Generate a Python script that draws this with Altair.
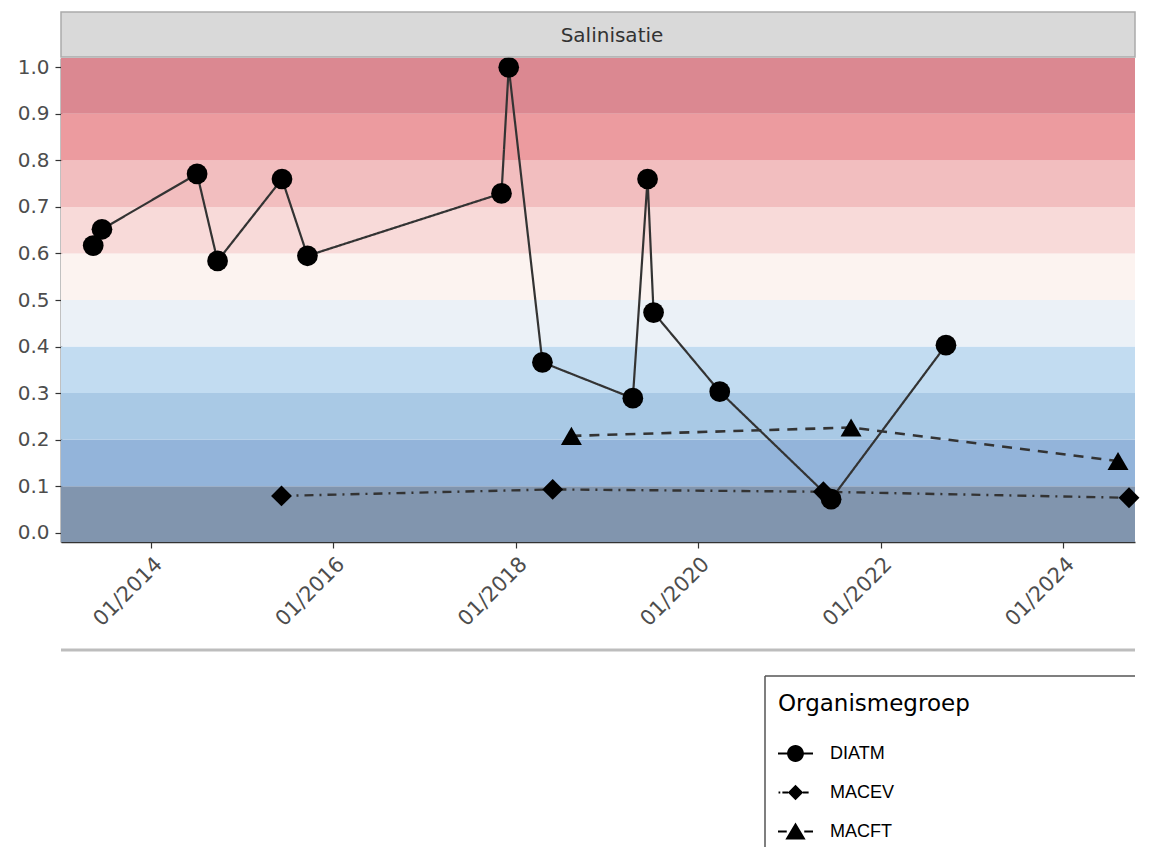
import altair as alt
import pandas as pd

# ---------------- data ----------------
groups = ["DIATM", "MACEV", "MACFT"]

diatm_dates = ["2013-05-15", "2013-06-19", "2014-07-05", "2014-09-25", "2015-06-10",
               "2015-09-20", "2017-11-05", "2017-12-04", "2018-04-18", "2019-04-15",
               "2019-06-13", "2019-07-07", "2020-03-28", "2021-06-17", "2022-09-20"]
diatm_values = [0.617, 0.652, 0.771, 0.584, 0.760, 0.595, 0.729, 1.000, 0.366, 0.289,
                0.760, 0.473, 0.303, 0.072, 0.403]

macev_dates = ["2015-06-08", "2018-05-29", "2021-05-17", "2024-09-22"]
macev_values = [0.079, 0.093, 0.088, 0.075]

macft_dates = ["2018-08-12", "2021-09-05", "2024-08-09"]
macft_values = [0.208, 0.226, 0.154]

band_lower = [0.0, 0.1, 0.2, 0.3, 0.4, 0.5, 0.6, 0.7, 0.8, 0.9]
band_upper = [0.1, 0.2, 0.3, 0.4, 0.5, 0.6, 0.7, 0.8, 0.9, 1.0]
band_colors = ["#8195AE", "#93B4DA", "#A9C9E5", "#C2DCF1", "#EBF1F7",
               "#FCF3F0", "#F8DAD9", "#F2BEBF", "#EC9B9F", "#DB8891"]

y_ticks = [0.0, 0.1, 0.2, 0.3, 0.4, 0.5, 0.6, 0.7, 0.8, 0.9, 1.0]
x_tick_years = [2014, 2016, 2018, 2020, 2022, 2024]
Y_DOMAIN = [-0.02, 1.02]

strip_label = "Salinisatie"
legend_title = "Organismegroep"

# ---------------- tables ----------------
df = pd.concat([
    pd.DataFrame({"date": diatm_dates, "value": diatm_values, "group": "DIATM"}),
    pd.DataFrame({"date": macev_dates, "value": macev_values, "group": "MACEV"}),
    pd.DataFrame({"date": macft_dates, "value": macft_values, "group": "MACFT"}),
], ignore_index=True)

lo = list(band_lower)
hi = list(band_upper)
lo[0] = Y_DOMAIN[0]
hi[-1] = Y_DOMAIN[1]
bands = pd.DataFrame({"lo": lo, "hi": hi, "col": band_colors})

one = pd.DataFrame({"t": [strip_label]})

W = 1074
H = 484

yscale = alt.Scale(domain=Y_DOMAIN, nice=False, zero=False)
yaxis = alt.Axis(values=y_ticks, format=".1f", title=None, labelPadding=6, tickSize=6, grid=False,
                 labelFontSize=20)
xscale = alt.Scale(type="utc", nice=False,
                   domain=[alt.DateTime(year=2013, month=1, date=6, utc=True),
                           alt.DateTime(year=2024, month=10, date=16, utc=True)])
xaxis = alt.Axis(values=[alt.DateTime(year=y, month=1, date=1, utc=True) for y in x_tick_years],
                 format="%m/%Y", labelAngle=-45, labelAlign="right", labelBaseline="top",
                 labelPadding=5, tickSize=6, title=None, grid=False, labelFontSize=21)

X = alt.X("date:T", scale=xscale, axis=xaxis)
Y = alt.Y("value:Q", scale=yscale, axis=yaxis)

band_layer = alt.Chart(bands).mark_rect().encode(
    x=alt.value(0), x2=alt.value(W),
    y=alt.Y("lo:Q", scale=yscale, axis=yaxis), y2="hi:Q",
    color=alt.Color("col:N", scale=None),
)

line_layer = alt.Chart(df).mark_line(color="#333333").encode(
    x=X, y=Y, detail="group:N",
    strokeDash=alt.StrokeDash("group:N", scale=alt.Scale(domain=groups, range=[[1, 0], [9, 6, 2, 6], [10, 8]]), legend=None),
    strokeWidth=alt.StrokeWidth("group:N", scale=alt.Scale(domain=groups, range=[2.2, 2.6, 2.8]), legend=None),
)

point_layer = alt.Chart(df).mark_point(filled=True, color="black", opacity=1).encode(
    x=X, y=Y,
    shape=alt.Shape("group:N", scale=alt.Scale(domain=groups, range=["circle", "diamond", "triangle-up"]), legend=None),
    size=alt.Size("group:N", scale=alt.Scale(domain=groups, range=[430, 440, 760]), legend=None),
)

legend_paths = [
    "M-1,-0.06L-0.46,-0.06L-0.46,0.06L-1,0.06Z M0.46,-0.06L1,-0.06L1,0.06L0.46,0.06Z "
    "M0.48,0A0.48,0.48,0,1,1,-0.48,0A0.48,0.48,0,1,1,0.48,0Z",
    "M-0.97,-0.06L-0.87,-0.06L-0.87,0.06L-0.97,0.06Z M-0.75,-0.06L-0.42,-0.06L-0.42,0.06L-0.75,0.06Z "
    "M0.42,-0.06L0.75,-0.06L0.75,0.06L0.42,0.06Z M-0.44,0L0,-0.44L0.44,0L0,0.44Z",
    "M-1,-0.06L-0.5,-0.06L-0.5,0.06L-1,0.06Z M0.5,-0.06L1,-0.06L1,0.06L0.5,0.06Z "
    "M0,-0.52L0.58,0.46L-0.58,0.46Z",
]

legend_layer = alt.Chart(df).mark_point(filled=True, color="black", opacity=0).encode(
    x=X, y=Y,
    shape=alt.Shape("group:N", scale=alt.Scale(domain=groups, range=legend_paths),
                    legend=alt.Legend(orient="none", legendX=717, legendY=635, title=legend_title,
                                      titleFont="DejaVu Sans", titleFontSize=23, titleFontWeight="normal",
                                      titleColor="black", titlePadding=20, titleLimit=500,
                                      labelFont="Liberation Sans", labelFontSize=18, labelColor="black",
                                      labelOffset=17, symbolSize=1225, symbolFillColor="black",
                                      symbolStrokeColor="black", symbolStrokeWidth=0, symbolOpacity=1,
                                      rowPadding=12, padding=0)),
)

strip_rect = alt.Chart(one).mark_rect(fill="#D9D9D9", stroke="#AAAAAA", strokeWidth=1.5).encode(
    x=alt.value(0), x2=alt.value(W), y=alt.value(-46), y2=alt.value(-1))

strip_text = alt.Chart(one).mark_text(font="DejaVu Sans", fontSize=20, color="#333333",
                                      align="center", baseline="middle").encode(
    text="t:N", x=alt.value(551), y=alt.value(-22))

bottom_rule = alt.Chart(one).mark_rule(color="#BDBDBD", strokeWidth=3).encode(
    x=alt.value(0), x2=alt.value(W), y=alt.value(592))

box_top = alt.Chart(one).mark_rule(color="#555555", strokeWidth=1.5).encode(
    x=alt.value(704), x2=alt.value(W), y=alt.value(618))
box_left = alt.Chart(one).mark_rule(color="#555555", strokeWidth=1.5).encode(
    x=alt.value(704), y=alt.value(618), y2=alt.value(789))

chart = alt.layer(
    band_layer, line_layer, point_layer, legend_layer,
    strip_rect, strip_text, bottom_rule, box_top, box_left,
).resolve_scale(
    shape="independent"
).properties(
    width=W, height=H,
    padding={"left": 9, "top": 3, "right": 0, "bottom": 0},
    background="white",
).configure_view(
    stroke=None
).configure_axis(
    labelFont="DejaVu Sans", labelColor="#4D4D4D",
    domainColor="#333333", domainWidth=1.6, tickColor="#333333", tickWidth=1.2,
)

chart.save("out.html", embed_options={"renderer": "svg", "actions": False})
